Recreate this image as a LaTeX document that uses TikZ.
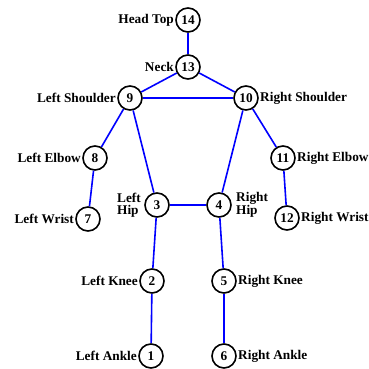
\documentclass[tikz,border=0pt]{standalone}
\usepackage{fontspec}
\setmainfont{Liberation Serif}
\usetikzlibrary{positioning}

\tikzset{
  joint/.style={circle, draw=black, line width=1.6pt, minimum size=24pt, inner sep=0pt,
                font=\bfseries\fontsize{13.3}{12.5}\selectfont},
  lbl/.style={inner sep=1.2pt, align=left, font=\bfseries\fontsize{13.3}{12.5}\selectfont},
  bone/.style={draw=blue, line width=1.6pt}
}

\begin{document}
\begin{tikzpicture}[x=1pt,y=-1pt]
   \path[use as bounding box] (0,0) rectangle (368,369);
   % joints
   \node[joint] (n14) at (188, 20) {14};
   \node[joint] (n13) at (188, 67) {13};
   \node[joint] (n9)  at (130, 98) {9};
   \node[joint] (n10) at (246, 98) {10};
   \node[joint] (n8)  at ( 95,158) {8};
   \node[joint] (n11) at (283,158) {11};
   \node[joint] (n7)  at ( 88,219) {7};
   \node[joint] (n12) at (287,218) {12};
   \node[joint] (n3)  at (157,205) {3};
   \node[joint] (n4)  at (219,205) {4};
   \node[joint] (n2)  at (152,281) {2};
   \node[joint] (n5)  at (224,281) {5};
   \node[joint] (n1)  at (151,356) {1};
   \node[joint] (n6)  at (224,356) {6};
   % names
   \node[lbl, anchor=east] (l14) at (n14.west) {Head Top};
   \node[lbl, anchor=east] (l13) at (n13.west) {Neck};
   \node[lbl, anchor=east] (l9)  at (n9.west)  {Left Shoulder};
   \node[lbl, anchor=west] (l10) at (n10.east) {Right Shoulder};
   \node[lbl, anchor=east] (l8)  at (n8.west)  {Left Elbow};
   \node[lbl, anchor=west] (l11) at (n11.east) {Right Elbow};
   \node[lbl, anchor=east] (l7)  at (n7.west)  {Left Wrist};
   \node[lbl, anchor=west] (l12) at (n12.east) {Right Wrist};
   \node[lbl, anchor=east, xshift=-2pt] (l3) at (n3.west) {Left\\Hip};
   \node[lbl, anchor=west, xshift=3pt]  (l4) at (n4.east) {Right\\Hip};
   \node[lbl, anchor=east] (l2)  at (n2.west)  {Left Knee};
   \node[lbl, anchor=west] (l5)  at (n5.east)  {Right Knee};
   \node[lbl, anchor=east] (l1)  at (n1.west)  {Left Ankle};
   \node[lbl, anchor=west] (l6)  at (n6.east)  {Right Ankle};
   % skeleton
   \draw[bone] (n14) -- (n13);
   \draw[bone] (n13) -- (n9);
   \draw[bone] (n13) -- (n10);
   \draw[bone] (n9) -- (n10);
   \draw[bone] (n9) -- (n8);
   \draw[bone] (n8) -- (n7);
   \draw[bone] (n10) -- (n11);
   \draw[bone] (n11) -- (n12);
   \draw[bone] (n9) -- (n3);
   \draw[bone] (n10) -- (n4);
   \draw[bone] (n3) -- (n4);
   \draw[bone] (n3) -- (n2);
   \draw[bone] (n2) -- (n1);
   \draw[bone] (n4) -- (n5);
   \draw[bone] (n5) -- (n6);
\end{tikzpicture}
\end{document}
